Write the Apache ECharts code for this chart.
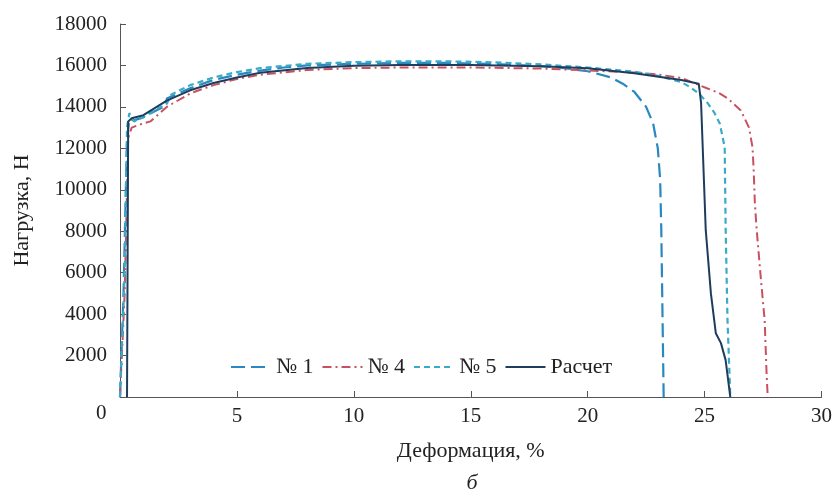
<!DOCTYPE html>
<html><head><meta charset="utf-8">
<script src="https://cdn.jsdelivr.net/npm/echarts@6/dist/echarts.min.js"></script>
<style>html,body{margin:0;padding:0;background:#fff}#c{width:835px;height:490px}</style>
</head><body><div id="c"></div>
<script>
// ---- data ----
const xTicks = [0, 5, 10, 15, 20, 25, 30];
const yTicks = [2000, 4000, 6000, 8000, 10000, 12000, 14000, 16000, 18000];
const seriesNames = ['№ 1', '№ 4', '№ 5', 'Расчет'];

const s1X = [0, 0.15, 0.3, 0.4, 0.6, 1.0, 1.5, 1.95, 2.0, 2.1, 3, 4, 5, 6, 7, 8, 10, 12, 14, 16, 18, 19, 20, 21, 21.5, 22, 22.5, 22.8, 23.0, 23.1, 23.15, 23.2, 23.25];
const s1Y = [0, 5000, 12500, 13400, 13350, 13500, 13800, 14050, 14400, 14450, 14900, 15300, 15550, 15750, 15900, 16000, 16080, 16120, 16120, 16070, 15970, 15870, 15720, 15420, 15120, 14720, 14000, 13200, 12000, 10500, 8000, 4000, 0];

const s4X = [0, 0.2, 0.35, 0.5, 0.85, 1.3, 1.6, 2, 3, 4, 5, 6, 8, 10, 12, 15, 18, 20, 22, 23, 24, 25.1, 25.6, 26.0, 26.55, 26.9, 27.05, 27.1, 27.15, 27.23, 27.4, 27.57, 27.65, 27.7];
const s4Y = [0, 5000, 12500, 13000, 13150, 13300, 13600, 14000, 14650, 15050, 15350, 15550, 15780, 15870, 15900, 15900, 15850, 15760, 15660, 15560, 15400, 14900, 14680, 14400, 13830, 13000, 12050, 10940, 9350, 8050, 5800, 3700, 1160, 0];

const s5X = [0, 0.2, 0.3, 0.4, 0.6, 1, 1.5, 2, 2.2, 3, 4, 5, 6, 8, 10, 12, 14, 16, 18, 20, 22, 23, 24, 24.4, 24.8, 25.14, 25.4, 25.65, 25.86, 25.9, 25.98, 26.07, 26.1];
const s5Y = [0, 6000, 13000, 13700, 13300, 13500, 13850, 14150, 14600, 15050, 15420, 15680, 15870, 16080, 16160, 16200, 16200, 16150, 16050, 15900, 15700, 15500, 15200, 14940, 14600, 14170, 13750, 13200, 12050, 8190, 3700, 960, 0];

const calcX = [0.3, 0.35, 0.5, 1.0, 2, 3, 4, 5, 6, 8, 10, 12, 15, 18, 20, 22, 24, 24.75, 24.85, 25.05, 25.27, 25.48, 25.7, 25.9, 26.1];
const calcY = [0, 13300, 13450, 13600, 14300, 14800, 15150, 15420, 15650, 15880, 15980, 16020, 16020, 15960, 15860, 15620, 15300, 15120, 14200, 8050, 5000, 3080, 2600, 1780, 0];

// ---- chart ----
const zip = (xs, ys) => xs.map((x, i) => [x, ys[i]]);
const FONT = '"Liberation Serif", "DejaVu Serif", serif';
const chart = echarts.init(document.getElementById('c'), null, {renderer: 'canvas'});

const mk = (name, xs, ys, color, type, width) => ({
  name, type: 'line', data: zip(xs, ys), symbol: 'none', smooth: false,
  lineStyle: {color, type, width}, itemStyle: {color}
});

chart.setOption({
  animation: false,
  grid: {left: 120, right: 11, top: 24, bottom: 93},
  textStyle: {fontFamily: FONT},
  legend: {
    left: 225, top: 351, itemWidth: 40, itemHeight: 14, itemGap: 8,
    itemStyle: {opacity: 0},
    textStyle: {fontFamily: FONT, fontSize: 22, color: '#222'},
    data: seriesNames
  },
  xAxis: {
    type: 'value', min: xTicks[0], max: xTicks[xTicks.length - 1], interval: 5,
    name: 'Деформация, %', nameLocation: 'middle', nameGap: 43,
    nameTextStyle: {fontFamily: FONT, fontSize: 22, color: '#222'},
    axisLine: {lineStyle: {color: '#555', width: 1}},
    axisTick: {inside: true, length: 6, lineStyle: {color: '#555'}},
    axisLabel: {fontFamily: FONT, fontSize: 21, color: '#222', margin: 9,
      formatter: v => (v === 0 ? '' : String(v))},
    splitLine: {show: false}
  },
  yAxis: {
    type: 'value', min: 0, max: yTicks[yTicks.length - 1], interval: 2000,
    name: 'Нагрузка, Н', nameLocation: 'middle', nameGap: 87,
    nameTextStyle: {fontFamily: FONT, fontSize: 22, color: '#222'},
    axisLine: {show: true, lineStyle: {color: '#555', width: 1}},
    axisTick: {show: true, inside: true, length: 6, lineStyle: {color: '#555'}},
    axisLabel: {fontFamily: FONT, fontSize: 21, color: '#222', margin: 13,
      formatter: v => (v === 0 ? '' : String(v))},
    splitLine: {show: false}
  },
  graphic: [
    {type: 'text', left: 96, top: 403, style: {text: '0', font: '21px ' + FONT, fill: '#222'}},
    {type: 'text', x: 472, y: 483, style: {text: 'б', font: 'italic 22px ' + FONT, fill: '#222', textAlign: 'center', textVerticalAlign: 'middle'}}
  ],
  series: [
    mk(seriesNames[0], s1X, s1Y, '#2a88c0', [14, 6], 2.2),
    mk(seriesNames[1], s4X, s4Y, '#c9505f', [9, 4, 2, 4], 2),
    mk(seriesNames[2], s5X, s5Y, '#3aaac6', [6, 4], 2.2),
    mk(seriesNames[3], calcX, calcY, '#1e3d5c', 'solid', 2)
  ]
});
</script></body></html>
